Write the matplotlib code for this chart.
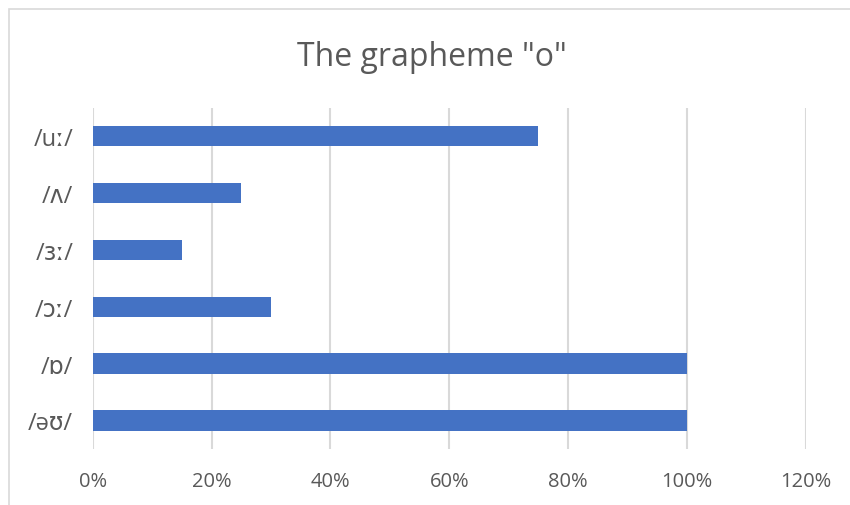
import matplotlib
matplotlib.use('Agg')
import matplotlib.pyplot as plt
from matplotlib.patches import Rectangle
from matplotlib.ticker import FuncFormatter

plt.rcParams['font.family'] = ['Open Sans', 'DejaVu Sans']

# phonemes, bottom to top as drawn
phonemes = ['/əʊ/', '/ɒ/', '/ɔː/', '/ɜː/', '/ʌ/', '/uː/']
shares   = [1.00, 1.00, 0.30, 0.15, 0.25, 0.75]
xticks   = [0, 0.2, 0.4, 0.6, 0.8, 1.0, 1.2]

txtcol  = '#595959'
gridcol = '#d9d9d9'
barcol  = '#4472c4'

fig = plt.figure(figsize=(8.5, 5.06), dpi=100)
ax  = fig.add_axes([0.109, 0.111, 0.839, 0.674])

# thin chart-area frame (cropped at right and bottom)
fig.patches.append(Rectangle((9/850, -0.1), 1.2, 1 - 10/506 + 0.1,
                             transform=fig.transFigure, fill=False,
                             edgecolor=gridcol, linewidth=1.2))

ypos = range(len(phonemes))
ax.barh(ypos, shares, height=0.36, color=barcol, zorder=3)

ax.set_xlim(0, 1.2)
ax.set_ylim(-0.5, len(phonemes) - 0.5)
ax.set_xticks(xticks)
ax.xaxis.set_major_formatter(FuncFormatter(lambda v, p: '{:.0f}%'.format(v*100)))
ax.set_yticks(list(ypos))
ax.set_yticklabels(phonemes)

ax.grid(axis='x', color=gridcol, linewidth=1.5, zorder=0)
for s in ax.spines.values():
    s.set_visible(False)
ax.tick_params(axis='both', length=0, colors=txtcol)
ax.tick_params(axis='x', pad=16, labelsize=14.5)
ax.tick_params(axis='y', pad=14, labelsize=17)

fig.text(0.508, 0.887, 'The grapheme "o"', ha='center', va='center',
         fontsize=23, color=txtcol)

fig.savefig('out.png', dpi=100)
